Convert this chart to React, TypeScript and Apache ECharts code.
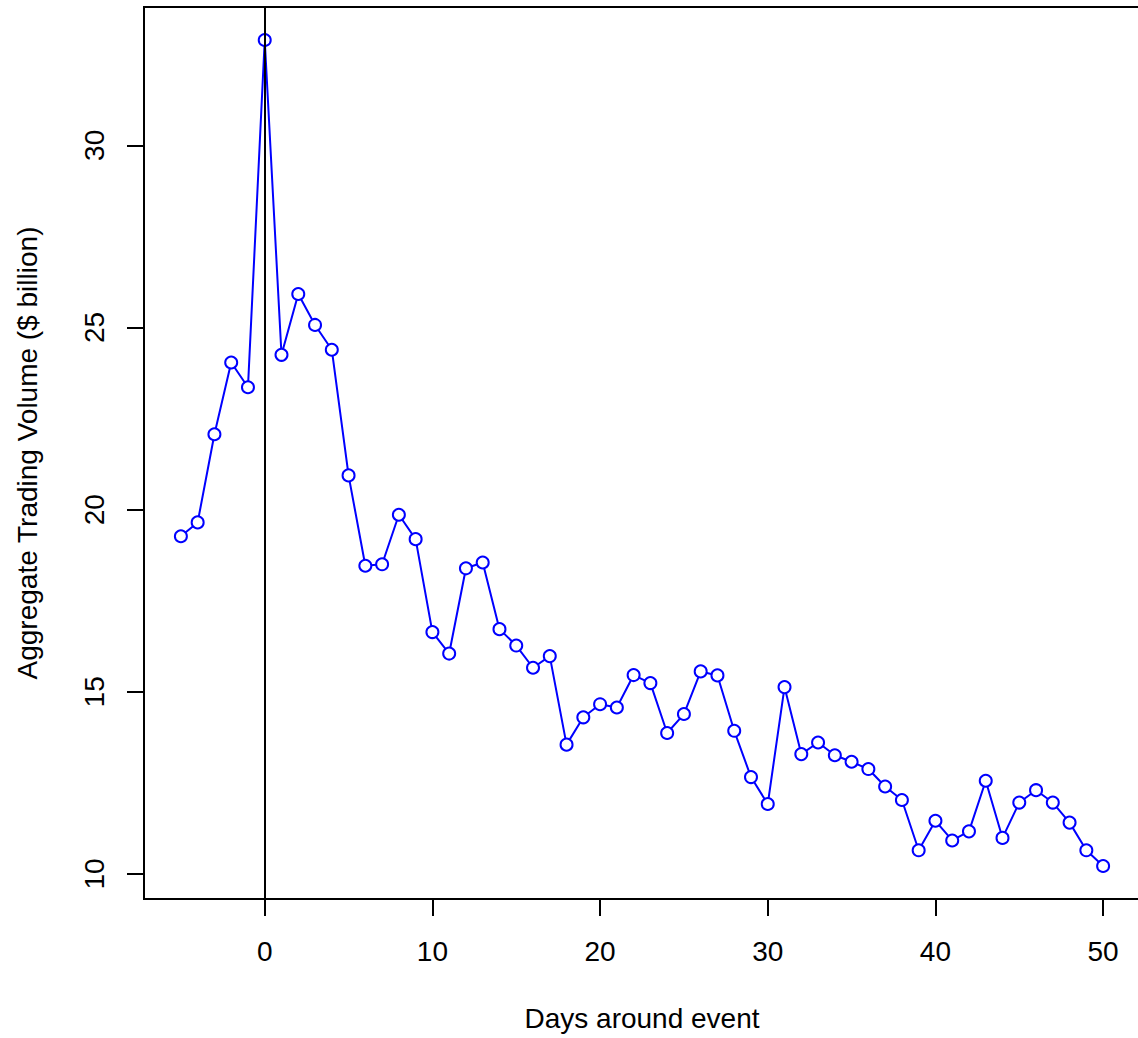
import React, { useEffect, useRef } from "react";
import * as echarts from "echarts";

const days = [
  -5, -4, -3, -2, -1, 0, 1, 2, 3, 4, 5, 6, 7, 8, 9, 10, 11, 12, 13, 14, 15,
  16, 17, 18, 19, 20, 21, 22, 23, 24, 25, 26, 27, 28, 29, 30, 31, 32, 33, 34,
  35, 36, 37, 38, 39, 40, 41, 42, 43, 44, 45, 46, 47, 48, 49, 50,
];

const volume = [
  19.27, 19.65, 22.07, 24.04, 23.36, 32.89, 24.25, 25.92, 25.07, 24.39, 20.94,
  18.46, 18.5, 19.86, 19.19, 16.64, 16.05, 18.39, 18.55, 16.72, 16.27, 15.66,
  15.98, 13.55, 14.3, 14.66, 14.57, 15.46, 15.24, 13.87, 14.39, 15.56, 15.45,
  13.93, 12.66, 11.92, 15.13, 13.29, 13.61, 13.26, 13.08, 12.88, 12.4, 12.03,
  10.65, 11.46, 10.92, 11.17, 12.56, 10.99, 11.96, 12.3, 11.96, 11.41, 10.65,
  10.22,
];

const xTicks = [0, 10, 20, 30, 40, 50];
const yTicks = [10, 15, 20, 25, 30];
const eventDay = [0];

const xTitle = "Days around event";
const yTitle = "Aggregate Trading Volume ($ billion)";

const FONT = '"Liberation Sans", Arial, Helvetica, sans-serif';

function rRange(vals: number[]) {
  const lo = Math.min(...vals);
  const hi = Math.max(...vals);
  const pad = (hi - lo) * 0.04;
  return [lo - pad, hi + pad];
}

export default function App() {
  const ref = useRef<HTMLDivElement>(null);

  useEffect(() => {
    document.body.style.margin = "0";
    if (!ref.current) return;
    const chart = echarts.init(ref.current, undefined, { renderer: "svg" });
    const [xMin, xMax] = rRange(days);
    const [yMin, yMax] = rRange(volume);
    const points = days.map((d, i) => [d, volume[i]]);

    chart.setOption({
      animation: false,
      backgroundColor: "#ffffff",
      grid: {
        left: 144,
        top: 7,
        width: 996,
        height: 892,
        show: true,
        borderColor: "#000",
        borderWidth: 2,
        backgroundColor: "transparent",
        containLabel: false,
        outerBoundsMode: "none",
      },
      xAxis: {
        type: "value",
        min: xMin,
        max: xMax,
        name: xTitle,
        nameLocation: "middle",
        nameGap: 105,
        nameTextStyle: { color: "#000", fontSize: 28, fontFamily: FONT },
        axisLine: { show: true, onZero: false, lineStyle: { color: "#000", width: 2 } },
        axisTick: {
          show: true,
          length: 17,
          inside: false,
          customValues: xTicks,
          lineStyle: { color: "#000", width: 2 },
        },
        axisLabel: {
          show: true,
          customValues: xTicks,
          margin: 38,
          color: "#000",
          fontSize: 28,
          fontFamily: FONT,
          formatter: (v: number) => String(v),
        },
        splitLine: { show: false },
      },
      yAxis: {
        type: "value",
        min: yMin,
        max: yMax,
        name: yTitle,
        nameLocation: "middle",
        nameGap: 103,
        nameRotate: 90,
        nameTextStyle: { color: "#000", fontSize: 28, fontFamily: FONT },
        axisLine: { show: true, onZero: false, lineStyle: { color: "#000", width: 2 } },
        axisTick: {
          show: true,
          length: 17,
          inside: false,
          customValues: yTicks,
          lineStyle: { color: "#000", width: 2 },
        },
        axisLabel: {
          show: true,
          customValues: yTicks,
          rotate: 90,
          margin: 36,
          color: "#000",
          fontSize: 28,
          fontFamily: FONT,
          formatter: (v: number) => String(v),
        },
        splitLine: { show: false },
      },
      series: [
        {
          type: "line",
          data: points,
          z: 2,
          symbol: "circle",
          symbolSize: 12,
          showSymbol: true,
          lineStyle: { color: "#0000ff", width: 2 },
          itemStyle: { color: "#ffffff", borderColor: "#0000ff", borderWidth: 2 },
          emphasis: { disabled: true },
        },
        {
          type: "line",
          data: [],
          z: 10,
          markLine: {
            silent: true,
            symbol: ["none", "none"],
            label: { show: false },
            lineStyle: { color: "#000", width: 2, type: "solid" },
            data: eventDay.map((d) => ({ xAxis: d })),
          },
        },
      ],
    });

    return () => chart.dispose();
  }, []);

  return (
    <div
      ref={ref}
      style={{ position: "absolute", left: 0, top: 0, width: 1138, height: 1038 }}
    />
  );
}
